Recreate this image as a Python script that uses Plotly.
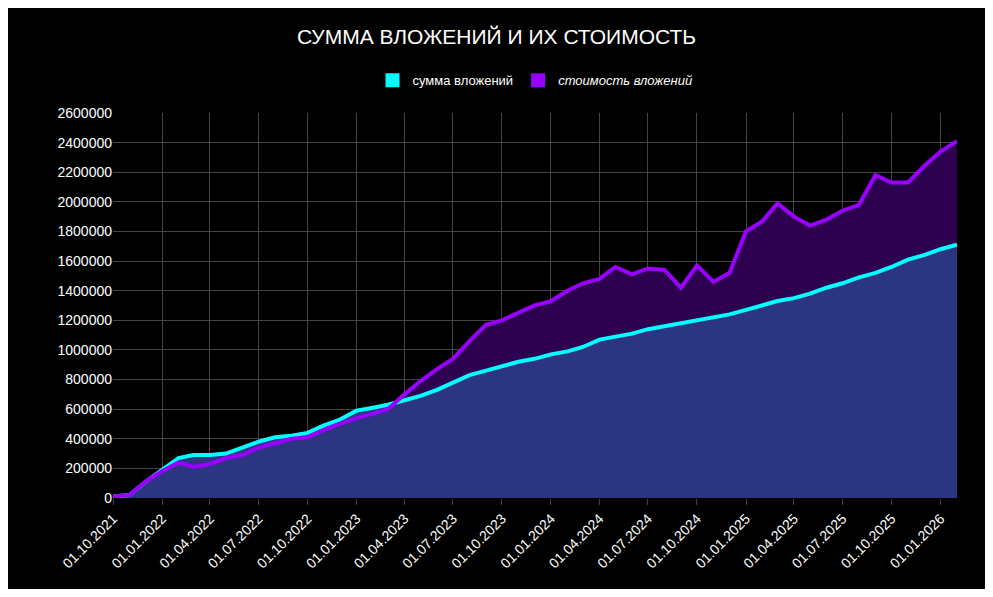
import plotly.graph_objects as go
import pandas as pd

dates = pd.date_range("2021-10-01", "2026-02-01", freq="MS")

invested = [10000, 20000, 110000, 190000, 270000, 290000, 290000, 300000, 340000, 380000,
            410000, 420000, 440000, 490000, 530000, 590000, 610000, 630000, 660000, 690000,
            730000, 780000, 830000, 860000, 890000, 920000, 940000, 970000, 990000, 1020000,
            1070000, 1090000, 1110000, 1140000, 1160000, 1180000, 1200000, 1220000, 1240000,
            1270000, 1300000, 1330000, 1350000, 1380000, 1420000, 1450000, 1490000, 1520000,
            1560000, 1610000, 1640000, 1680000, 1710000]

value = [10000, 20000, 110000, 180000, 240000, 210000, 230000, 270000, 290000, 340000,
         370000, 400000, 410000, 460000, 500000, 540000, 570000, 600000, 700000, 790000,
         870000, 940000, 1060000, 1170000, 1200000, 1250000, 1300000, 1330000, 1400000,
         1450000, 1480000, 1560000, 1510000, 1550000, 1540000, 1420000, 1570000, 1460000,
         1520000, 1800000, 1870000, 1990000, 1900000, 1840000, 1880000, 1940000, 1980000,
         2180000, 2130000, 2130000, 2240000, 2340000, 2410000]

cyan = "#00ffff"
purple = "#9900ff"

fig = go.Figure()
fig.add_trace(go.Scatter(x=dates, y=value, mode="none",
                         fill="tozeroy", fillcolor="#2e0050", showlegend=False))
fig.add_trace(go.Scatter(x=dates, y=invested, mode="lines", line=dict(color=cyan, width=4),
                         fill="tozeroy", fillcolor="#2c3582", showlegend=False))
# purple line on top so it stays visible where it dips under the cyan one
fig.add_trace(go.Scatter(x=dates, y=value, mode="lines", line=dict(color=purple, width=4),
                         showlegend=False))
# legend entries with square markers
fig.add_trace(go.Scatter(x=[None], y=[None], mode="markers", name="сумма вложений",
                         marker=dict(symbol="square", size=14, color=cyan)))
fig.add_trace(go.Scatter(x=[None], y=[None], mode="markers", name="<i>стоимость вложений</i>",
                         marker=dict(symbol="square", size=14, color=purple)))

fig.update_layout(
    autosize=True,
    paper_bgcolor="black", plot_bgcolor="black",
    font=dict(family="Liberation Sans, Arial", color="white", size=14),
    title=dict(text="СУММА ВЛОЖЕНИЙ И ИХ СТОИМОСТЬ", x=0.5, y=0.95, yanchor="middle",
               font=dict(size=21)),
    legend=dict(orientation="h", x=0.5, xanchor="center", y=1.085, yanchor="middle",
                font=dict(size=13)),
    margin=dict(l=105, r=28, t=105, b=91),
)
fig.update_xaxes(range=[dates[0], dates[-1]], tickformat="%d.%m.%Y", dtick="M3",
                 tick0="2021-10-01", tickangle=-45, showgrid=True, gridcolor="#444",
                 showline=False, zeroline=False, ticks="outside", ticklen=6, tickcolor="#444")
fig.update_yaxes(range=[0, 2600000], dtick=200000, tickformat="d", showgrid=True,
                 gridcolor="#444", zeroline=False)

fig.write_html("out.html", config={"responsive": True},
               default_width="100%", default_height="100%")
